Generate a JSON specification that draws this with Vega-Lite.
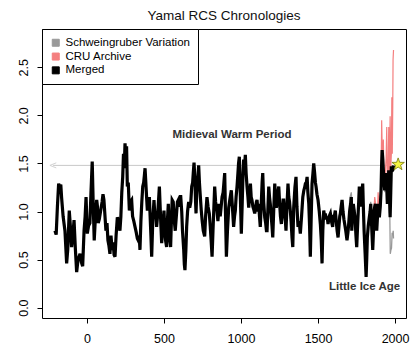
{
  "$schema": "https://vega.github.io/schema/vega-lite/v6.json",
  "width": 364,
  "height": 289,
  "autosize": "none",
  "padding": {"left": 42, "top": 29, "right": 14, "bottom": 42},
  "background": "white",
  "title": {"text": "Yamal RCS Chronologies", "font": "Liberation Sans", "fontSize": 13.5, "fontWeight": "normal", "color": "#111", "anchor": "middle", "offset": 6},
  "config": {
    "view": {"stroke": "black", "strokeWidth": 1},
    "axis": {"grid": false, "domain": false, "tickColor": "black", "tickSize": 5, "labelFont": "Liberation Sans", "labelFontSize": 12.5, "labelColor": "black"},
    "legend": {"orient": "top-left", "offset": 0, "strokeColor": "black", "strokeWidth": 1, "fillColor": "white", "padding": 8, "symbolType": "square", "symbolSize": 49, "symbolStrokeWidth": 1, "labelFont": "Liberation Sans", "labelFontSize": 11.5, "labelColor": "black", "rowPadding": 0.8}
  },
  "datasets": {
    "merged": [
      {"year": -208, "v": 0.80}, {"year": -200, "v": 0.76}, {"year": -192, "v": 1.05}, {"year": -184, "v": 1.29}, {"year": -178, "v": 1.25}, {"year": -170, "v": 1.28}, {"year": -165, "v": 1.15}, {"year": -155, "v": 0.95}, {"year": -143, "v": 0.80}, {"year": -132, "v": 0.46}, {"year": -125, "v": 0.60}, {"year": -115, "v": 1.01}, {"year": -108, "v": 0.85}, {"year": -100, "v": 0.63}, {"year": -92, "v": 0.75}, {"year": -84, "v": 0.91}, {"year": -75, "v": 0.60}, {"year": -67, "v": 0.37}, {"year": -58, "v": 0.50}, {"year": -45, "v": 0.56}, {"year": -36, "v": 0.47}, {"year": -28, "v": 0.43}, {"year": -19, "v": 0.80}, {"year": -12, "v": 0.95}, {"year": -6, "v": 1.15}, {"year": 2, "v": 0.77}, {"year": 10, "v": 0.85}, {"year": 19, "v": 0.88}, {"year": 26, "v": 1.20}, {"year": 34, "v": 1.52}, {"year": 40, "v": 1.10}, {"year": 47, "v": 0.70}, {"year": 55, "v": 0.95}, {"year": 63, "v": 1.12}, {"year": 68, "v": 1.05}, {"year": 73, "v": 0.88}, {"year": 80, "v": 0.92}, {"year": 89, "v": 1.01}, {"year": 98, "v": 1.10}, {"year": 104, "v": 1.18}, {"year": 110, "v": 1.12}, {"year": 117, "v": 0.95}, {"year": 123, "v": 0.80}, {"year": 130, "v": 0.88}, {"year": 136, "v": 0.70}, {"year": 142, "v": 0.65}, {"year": 149, "v": 0.56}, {"year": 156, "v": 0.75}, {"year": 163, "v": 0.60}, {"year": 170, "v": 0.68}, {"year": 176, "v": 0.55}, {"year": 182, "v": 0.53}, {"year": 189, "v": 0.75}, {"year": 197, "v": 0.94}, {"year": 205, "v": 0.90}, {"year": 214, "v": 0.80}, {"year": 220, "v": 0.95}, {"year": 226, "v": 1.20}, {"year": 232, "v": 1.36}, {"year": 237, "v": 1.60}, {"year": 242, "v": 1.45}, {"year": 247, "v": 1.71}, {"year": 252, "v": 1.55}, {"year": 257, "v": 1.68}, {"year": 262, "v": 1.26}, {"year": 268, "v": 1.30}, {"year": 275, "v": 1.01}, {"year": 282, "v": 1.10}, {"year": 290, "v": 1.12}, {"year": 296, "v": 0.95}, {"year": 304, "v": 0.90}, {"year": 312, "v": 0.84}, {"year": 320, "v": 0.78}, {"year": 327, "v": 0.72}, {"year": 333, "v": 0.70}, {"year": 339, "v": 0.75}, {"year": 344, "v": 0.60}, {"year": 350, "v": 0.90}, {"year": 356, "v": 1.10}, {"year": 362, "v": 1.26}, {"year": 368, "v": 1.30}, {"year": 373, "v": 1.38}, {"year": 377, "v": 1.45}, {"year": 382, "v": 1.30}, {"year": 387, "v": 1.15}, {"year": 392, "v": 1.01}, {"year": 398, "v": 1.08}, {"year": 405, "v": 1.15}, {"year": 410, "v": 0.95}, {"year": 415, "v": 0.75}, {"year": 420, "v": 0.53}, {"year": 427, "v": 0.90}, {"year": 435, "v": 1.12}, {"year": 441, "v": 0.95}, {"year": 446, "v": 1.00}, {"year": 452, "v": 0.84}, {"year": 458, "v": 0.95}, {"year": 464, "v": 1.10}, {"year": 470, "v": 1.26}, {"year": 475, "v": 1.05}, {"year": 480, "v": 0.85}, {"year": 485, "v": 0.67}, {"year": 492, "v": 0.85}, {"year": 500, "v": 1.01}, {"year": 505, "v": 0.80}, {"year": 510, "v": 0.70}, {"year": 517, "v": 0.63}, {"year": 522, "v": 0.90}, {"year": 528, "v": 1.08}, {"year": 533, "v": 0.85}, {"year": 538, "v": 0.70}, {"year": 543, "v": 0.63}, {"year": 548, "v": 0.90}, {"year": 553, "v": 1.12}, {"year": 560, "v": 1.10}, {"year": 567, "v": 0.90}, {"year": 573, "v": 0.80}, {"year": 580, "v": 0.95}, {"year": 587, "v": 1.10}, {"year": 593, "v": 1.12}, {"year": 600, "v": 1.05}, {"year": 608, "v": 1.17}, {"year": 615, "v": 1.00}, {"year": 620, "v": 0.80}, {"year": 628, "v": 0.60}, {"year": 632, "v": 0.45}, {"year": 636, "v": 0.39}, {"year": 642, "v": 0.60}, {"year": 647, "v": 0.84}, {"year": 653, "v": 1.00}, {"year": 660, "v": 1.10}, {"year": 667, "v": 1.04}, {"year": 674, "v": 1.10}, {"year": 680, "v": 1.26}, {"year": 686, "v": 1.30}, {"year": 690, "v": 1.40}, {"year": 695, "v": 1.51}, {"year": 700, "v": 1.35}, {"year": 705, "v": 1.10}, {"year": 708, "v": 0.98}, {"year": 714, "v": 1.29}, {"year": 720, "v": 1.35}, {"year": 725, "v": 1.48}, {"year": 730, "v": 1.30}, {"year": 736, "v": 1.15}, {"year": 742, "v": 1.01}, {"year": 748, "v": 0.90}, {"year": 755, "v": 0.80}, {"year": 764, "v": 0.74}, {"year": 770, "v": 0.95}, {"year": 779, "v": 1.15}, {"year": 786, "v": 1.05}, {"year": 794, "v": 0.98}, {"year": 800, "v": 0.85}, {"year": 806, "v": 0.70}, {"year": 812, "v": 0.53}, {"year": 818, "v": 0.80}, {"year": 824, "v": 1.05}, {"year": 829, "v": 1.26}, {"year": 835, "v": 1.10}, {"year": 844, "v": 1.01}, {"year": 850, "v": 0.90}, {"year": 855, "v": 1.00}, {"year": 859, "v": 1.08}, {"year": 865, "v": 0.95}, {"year": 871, "v": 1.05}, {"year": 877, "v": 1.15}, {"year": 884, "v": 1.20}, {"year": 889, "v": 1.30}, {"year": 894, "v": 1.40}, {"year": 899, "v": 1.00}, {"year": 905, "v": 0.53}, {"year": 912, "v": 0.80}, {"year": 920, "v": 1.04}, {"year": 927, "v": 1.12}, {"year": 937, "v": 1.22}, {"year": 944, "v": 1.05}, {"year": 952, "v": 0.84}, {"year": 958, "v": 0.95}, {"year": 963, "v": 1.01}, {"year": 968, "v": 1.15}, {"year": 974, "v": 1.26}, {"year": 980, "v": 1.40}, {"year": 984, "v": 1.50}, {"year": 989, "v": 1.57}, {"year": 995, "v": 1.20}, {"year": 1002, "v": 0.77}, {"year": 1008, "v": 1.10}, {"year": 1013, "v": 1.40}, {"year": 1017, "v": 1.54}, {"year": 1022, "v": 1.45}, {"year": 1028, "v": 1.59}, {"year": 1033, "v": 1.40}, {"year": 1039, "v": 1.26}, {"year": 1045, "v": 1.15}, {"year": 1050, "v": 1.04}, {"year": 1055, "v": 1.15}, {"year": 1061, "v": 1.29}, {"year": 1066, "v": 1.15}, {"year": 1071, "v": 1.12}, {"year": 1077, "v": 1.05}, {"year": 1083, "v": 1.02}, {"year": 1089, "v": 0.98}, {"year": 1095, "v": 1.05}, {"year": 1100, "v": 1.10}, {"year": 1104, "v": 1.12}, {"year": 1110, "v": 1.00}, {"year": 1115, "v": 1.08}, {"year": 1120, "v": 0.95}, {"year": 1125, "v": 0.84}, {"year": 1132, "v": 1.10}, {"year": 1137, "v": 1.30}, {"year": 1141, "v": 1.40}, {"year": 1147, "v": 1.10}, {"year": 1154, "v": 0.94}, {"year": 1160, "v": 0.88}, {"year": 1165, "v": 0.80}, {"year": 1169, "v": 0.80}, {"year": 1175, "v": 1.05}, {"year": 1180, "v": 1.26}, {"year": 1185, "v": 1.15}, {"year": 1190, "v": 1.08}, {"year": 1196, "v": 0.95}, {"year": 1201, "v": 0.85}, {"year": 1206, "v": 0.73}, {"year": 1212, "v": 1.00}, {"year": 1219, "v": 1.29}, {"year": 1224, "v": 1.15}, {"year": 1229, "v": 1.04}, {"year": 1236, "v": 1.10}, {"year": 1240, "v": 1.20}, {"year": 1245, "v": 1.26}, {"year": 1250, "v": 1.10}, {"year": 1256, "v": 0.95}, {"year": 1262, "v": 0.87}, {"year": 1268, "v": 1.00}, {"year": 1273, "v": 1.12}, {"year": 1277, "v": 1.12}, {"year": 1282, "v": 1.00}, {"year": 1288, "v": 0.90}, {"year": 1292, "v": 0.80}, {"year": 1298, "v": 1.05}, {"year": 1305, "v": 1.29}, {"year": 1310, "v": 1.15}, {"year": 1315, "v": 1.10}, {"year": 1320, "v": 1.01}, {"year": 1325, "v": 0.90}, {"year": 1331, "v": 0.73}, {"year": 1336, "v": 0.63}, {"year": 1342, "v": 1.04}, {"year": 1350, "v": 1.25}, {"year": 1357, "v": 1.36}, {"year": 1363, "v": 1.05}, {"year": 1370, "v": 0.84}, {"year": 1377, "v": 0.90}, {"year": 1385, "v": 0.77}, {"year": 1393, "v": 0.95}, {"year": 1401, "v": 1.15}, {"year": 1408, "v": 1.22}, {"year": 1413, "v": 1.25}, {"year": 1418, "v": 1.29}, {"year": 1424, "v": 1.30}, {"year": 1429, "v": 1.36}, {"year": 1434, "v": 1.20}, {"year": 1440, "v": 1.08}, {"year": 1445, "v": 0.85}, {"year": 1450, "v": 0.53}, {"year": 1455, "v": 0.90}, {"year": 1461, "v": 1.29}, {"year": 1467, "v": 1.40}, {"year": 1472, "v": 1.50}, {"year": 1478, "v": 1.40}, {"year": 1483, "v": 1.30}, {"year": 1487, "v": 1.26}, {"year": 1493, "v": 1.18}, {"year": 1500, "v": 1.12}, {"year": 1508, "v": 1.00}, {"year": 1515, "v": 0.87}, {"year": 1521, "v": 0.70}, {"year": 1526, "v": 0.46}, {"year": 1531, "v": 0.80}, {"year": 1537, "v": 1.01}, {"year": 1542, "v": 0.95}, {"year": 1547, "v": 0.98}, {"year": 1553, "v": 0.92}, {"year": 1559, "v": 0.95}, {"year": 1565, "v": 0.87}, {"year": 1572, "v": 0.95}, {"year": 1580, "v": 0.98}, {"year": 1587, "v": 0.90}, {"year": 1595, "v": 0.84}, {"year": 1600, "v": 0.95}, {"year": 1606, "v": 0.95}, {"year": 1612, "v": 1.01}, {"year": 1618, "v": 0.90}, {"year": 1624, "v": 0.80}, {"year": 1630, "v": 0.73}, {"year": 1636, "v": 0.85}, {"year": 1641, "v": 0.95}, {"year": 1645, "v": 0.98}, {"year": 1650, "v": 1.05}, {"year": 1656, "v": 1.12}, {"year": 1662, "v": 1.00}, {"year": 1668, "v": 0.92}, {"year": 1673, "v": 0.87}, {"year": 1680, "v": 0.80}, {"year": 1688, "v": 0.70}, {"year": 1694, "v": 0.78}, {"year": 1699, "v": 0.87}, {"year": 1705, "v": 1.00}, {"year": 1712, "v": 1.08}, {"year": 1716, "v": 1.15}, {"year": 1719, "v": 0.80}, {"year": 1723, "v": 0.95}, {"year": 1729, "v": 1.08}, {"year": 1735, "v": 1.00}, {"year": 1740, "v": 0.94}, {"year": 1746, "v": 0.75}, {"year": 1751, "v": 0.63}, {"year": 1758, "v": 0.90}, {"year": 1764, "v": 1.10}, {"year": 1768, "v": 1.26}, {"year": 1774, "v": 1.15}, {"year": 1779, "v": 1.05}, {"year": 1785, "v": 1.20}, {"year": 1790, "v": 1.29}, {"year": 1795, "v": 1.00}, {"year": 1799, "v": 0.80}, {"year": 1806, "v": 0.55}, {"year": 1812, "v": 0.32}, {"year": 1816, "v": 0.50}, {"year": 1820, "v": 0.73}, {"year": 1826, "v": 0.85}, {"year": 1833, "v": 0.94}, {"year": 1838, "v": 1.00}, {"year": 1842, "v": 1.08}, {"year": 1848, "v": 0.85}, {"year": 1855, "v": 0.60}, {"year": 1860, "v": 0.80}, {"year": 1864, "v": 1.01}, {"year": 1868, "v": 1.05}, {"year": 1872, "v": 1.08}, {"year": 1877, "v": 0.95}, {"year": 1881, "v": 0.80}, {"year": 1886, "v": 0.95}, {"year": 1890, "v": 1.08}, {"year": 1894, "v": 1.00}, {"year": 1898, "v": 0.94}, {"year": 1904, "v": 1.05}, {"year": 1909, "v": 1.22}, {"year": 1913, "v": 1.50}, {"year": 1916, "v": 1.64}, {"year": 1920, "v": 1.55}, {"year": 1924, "v": 1.43}, {"year": 1928, "v": 1.30}, {"year": 1933, "v": 1.22}, {"year": 1938, "v": 1.30}, {"year": 1942, "v": 1.40}, {"year": 1946, "v": 1.25}, {"year": 1950, "v": 1.08}, {"year": 1955, "v": 1.25}, {"year": 1959, "v": 1.43}, {"year": 1963, "v": 1.20}, {"year": 1968, "v": 0.94}, {"year": 1972, "v": 1.20}, {"year": 1976, "v": 1.47}, {"year": 1980, "v": 1.42}, {"year": 1985, "v": 1.43}, {"year": 1990, "v": 1.48}
    ],
    "cru": [
      {"year": 1850, "v": 0.90}, {"year": 1855, "v": 0.62}, {"year": 1860, "v": 0.85}, {"year": 1864, "v": 1.05}, {"year": 1868, "v": 1.15}, {"year": 1872, "v": 1.10}, {"year": 1877, "v": 0.98}, {"year": 1881, "v": 0.85}, {"year": 1886, "v": 1.00}, {"year": 1890, "v": 1.20}, {"year": 1894, "v": 1.10}, {"year": 1898, "v": 1.05}, {"year": 1904, "v": 1.15}, {"year": 1909, "v": 1.30}, {"year": 1913, "v": 1.95}, {"year": 1916, "v": 1.70}, {"year": 1920, "v": 1.55}, {"year": 1924, "v": 1.75}, {"year": 1928, "v": 1.35}, {"year": 1933, "v": 1.30}, {"year": 1938, "v": 1.45}, {"year": 1942, "v": 1.55}, {"year": 1946, "v": 1.88}, {"year": 1950, "v": 1.20}, {"year": 1955, "v": 1.45}, {"year": 1959, "v": 1.88}, {"year": 1963, "v": 1.35}, {"year": 1968, "v": 1.99}, {"year": 1972, "v": 1.45}, {"year": 1976, "v": 1.60}, {"year": 1979, "v": 2.19}, {"year": 1982, "v": 1.60}, {"year": 1985, "v": 2.10}, {"year": 1987, "v": 2.58}, {"year": 1990, "v": 2.68}
    ],
    "schw": [
      {"year": 1700, "v": 1.00}, {"year": 1708, "v": 1.15}, {"year": 1716, "v": 1.20}, {"year": 1725, "v": 0.95}, {"year": 1740, "v": 1.00}, {"year": 1751, "v": 0.70}, {"year": 1768, "v": 1.20}, {"year": 1785, "v": 1.15}, {"year": 1790, "v": 1.25}, {"year": 1800, "v": 0.80}, {"year": 1812, "v": 0.40}, {"year": 1820, "v": 0.75}, {"year": 1833, "v": 0.95}, {"year": 1842, "v": 1.10}, {"year": 1855, "v": 0.65}, {"year": 1864, "v": 1.05}, {"year": 1872, "v": 1.10}, {"year": 1880, "v": 0.85}, {"year": 1890, "v": 1.05}, {"year": 1898, "v": 0.95}, {"year": 1909, "v": 1.20}, {"year": 1916, "v": 1.60}, {"year": 1924, "v": 1.40}, {"year": 1933, "v": 1.20}, {"year": 1942, "v": 1.38}, {"year": 1950, "v": 1.10}, {"year": 1959, "v": 1.40}, {"year": 1963, "v": 1.00}, {"year": 1966, "v": 0.95}, {"year": 1969, "v": 0.56}, {"year": 1973, "v": 0.60}, {"year": 1977, "v": 0.62}, {"year": 1981, "v": 0.78}, {"year": 1985, "v": 0.76}, {"year": 1988, "v": 0.80}, {"year": 1990, "v": 0.72}
    ],
    "refline": [{"x": -220, "x2": 2012, "y": 1.48}],
    "stars": [{"x": 2020, "y": 1.49}],
    "notes": [
      {"x": 941, "y": 1.795, "label": "Midieval Warm Period"},
      {"x": 1802, "y": 0.215, "label": "Little Ice Age"}
    ]
  },
  "layer": [
    {
      "data": {"name": "refline"},
      "mark": {"type": "rule", "color": "#c8c8c8", "strokeWidth": 1},
      "encoding": {
        "x": {"field": "x", "type": "quantitative", "scale": {"domain": [-292, 2071], "nice": false, "zero": false}, "axis": {"values": [0, 500, 1000, 1500, 2000], "format": "d", "labelPadding": 9, "title": null}},
        "x2": {"field": "x2"},
        "y": {"field": "y", "type": "quantitative", "scale": {"domain": [-0.108, 2.899], "nice": false, "zero": false}, "axis": {"values": [0, 0.5, 1, 1.5, 2, 2.5], "format": ".1f", "labelAngle": -90, "labelAlign": "center", "labelBaseline": "bottom", "labelPadding": 7, "title": null}}
      }
    },
    {
      "data": {"name": "refline"},
      "mark": {"type": "point", "shape": "M1,-0.8L-1,0L1,0.8", "filled": false, "color": "#c0c0c0", "strokeWidth": 1, "size": 40},
      "encoding": {
        "x": {"field": "x", "type": "quantitative"},
        "y": {"field": "y", "type": "quantitative"}
      }
    },
    {
      "data": {"name": "schw"},
      "mark": {"type": "line", "strokeWidth": 1.3},
      "encoding": {
        "x": {"field": "year", "type": "quantitative"},
        "y": {"field": "v", "type": "quantitative"},
        "color": {"datum": "Schweingruber Variation", "type": "nominal", "scale": {"domain": ["Schweingruber Variation", "CRU Archive", "Merged"], "range": ["#999999", "#f47f7f", "#000000"]},
          "legend": {"title": null, "symbolType": "square", "encode": {"symbols": {"update": {"fill": {"signal": "scale('color', datum.value)"}, "fillOpacity": {"value": 1}}}}}}
      }
    },
    {
      "data": {"name": "cru"},
      "mark": {"type": "line", "strokeWidth": 1.2},
      "encoding": {
        "x": {"field": "year", "type": "quantitative"},
        "y": {"field": "v", "type": "quantitative"},
        "color": {"datum": "CRU Archive", "type": "nominal"}
      }
    },
    {
      "data": {"name": "merged"},
      "mark": {"type": "line", "strokeWidth": 3.2},
      "encoding": {
        "x": {"field": "year", "type": "quantitative"},
        "y": {"field": "v", "type": "quantitative"},
        "color": {"datum": "Merged", "type": "nominal"}
      }
    },
    {
      "data": {"name": "stars"},
      "mark": {"type": "point", "shape": "M0,-1L0.235,-0.324L0.951,-0.309L0.38,0.124L0.588,0.809L0,0.4L-0.588,0.809L-0.38,0.124L-0.951,-0.309L-0.235,-0.324Z", "filled": true, "fill": "#f5f542", "stroke": "#777700", "strokeWidth": 0.8, "size": 170, "opacity": 1},
      "encoding": {
        "x": {"field": "x", "type": "quantitative"},
        "y": {"field": "y", "type": "quantitative"}
      }
    },
    {
      "data": {"name": "notes"},
      "mark": {"type": "text", "font": "Liberation Sans", "fontSize": 11.5, "fontWeight": "bold", "color": "#333333", "align": "center", "baseline": "middle"},
      "encoding": {
        "x": {"field": "x", "type": "quantitative"},
        "y": {"field": "y", "type": "quantitative"},
        "text": {"field": "label", "type": "nominal"}
      }
    }
  ]
}
